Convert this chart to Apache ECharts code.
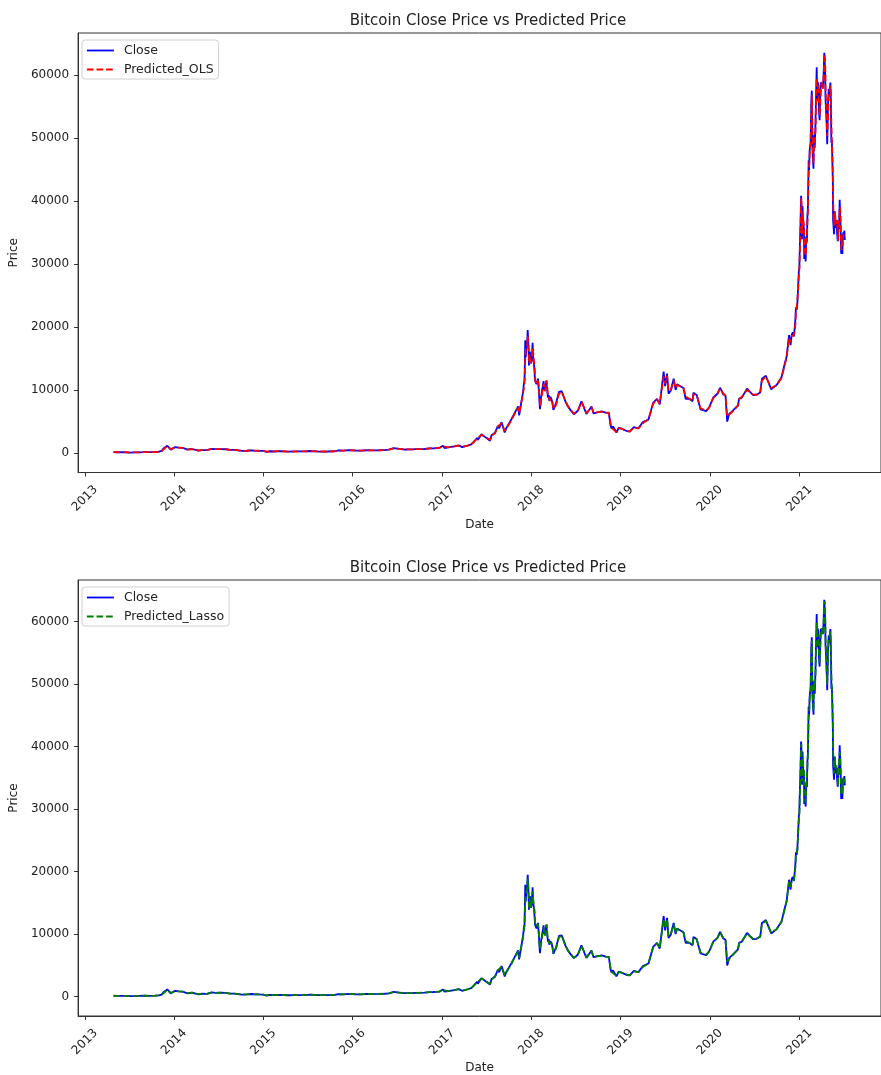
<!DOCTYPE html>
<html>
<head>
<meta charset="utf-8">
<script src="https://cdn.jsdelivr.net/npm/echarts@6/dist/echarts.min.js"></script>
<style>html,body{margin:0;padding:0;background:#fff;}#c{width:881px;height:1075px;}</style>
</head>
<body>
<div id="c"></div>
<script>
const titleText = 'Bitcoin Close Price vs Predicted Price';
const yearTicks = [2013, 2014, 2015, 2016, 2017, 2018, 2019, 2020, 2021];
const priceTicks = [0, 10000, 20000, 30000, 40000, 50000, 60000];

const dates = [
'2013-04-28','2013-05-15','2013-06-01','2013-06-20','2013-07-05','2013-07-20','2013-08-10','2013-09-01','2013-09-25','2013-10-15','2013-11-01','2013-11-12','2013-11-18','2013-11-25','2013-12-04','2013-12-10','2013-12-18','2013-12-26',
'2014-01-05','2014-01-20','2014-02-05','2014-02-25','2014-03-15','2014-04-10','2014-04-25','2014-05-15','2014-06-03','2014-06-20','2014-07-10','2014-08-01','2014-08-18','2014-09-05','2014-09-20','2014-10-05','2014-10-25','2014-11-12','2014-11-25','2014-12-15','2014-12-31',
'2015-01-14','2015-01-25','2015-02-15','2015-03-10','2015-04-14','2015-05-15','2015-06-20','2015-07-12','2015-08-18','2015-08-24','2015-09-20','2015-10-20','2015-11-04','2015-11-11','2015-11-25','2015-12-16',
'2016-01-15','2016-02-05','2016-02-28','2016-03-20','2016-04-15','2016-05-10','2016-05-28','2016-06-17','2016-06-25','2016-07-10','2016-08-02','2016-09-01','2016-09-15','2016-10-20','2016-11-10','2016-11-25','2016-12-20',
'2017-01-04','2017-01-11','2017-01-25','2017-02-20','2017-03-10','2017-03-24','2017-04-15','2017-04-30','2017-05-10','2017-05-25','2017-05-27','2017-06-11','2017-06-25','2017-07-16','2017-07-22','2017-08-05','2017-08-17','2017-08-22','2017-09-01','2017-09-14','2017-09-20','2017-10-12','2017-10-20','2017-11-08','2017-11-12','2017-11-28',
'2017-12-01','2017-12-04','2017-12-07','2017-12-09','2017-12-12','2017-12-15','2017-12-17','2017-12-19','2017-12-21','2017-12-22','2017-12-24','2017-12-26','2017-12-28','2017-12-31',
'2018-01-03','2018-01-06','2018-01-08','2018-01-10','2018-01-12','2018-01-14','2018-01-16','2018-01-17','2018-01-19','2018-01-22','2018-01-25','2018-01-28','2018-01-31','2018-02-02','2018-02-05','2018-02-07','2018-02-09','2018-02-12','2018-02-15','2018-02-18','2018-02-20','2018-02-22','2018-02-25','2018-02-28','2018-03-03','2018-03-05','2018-03-08','2018-03-10','2018-03-13','2018-03-15','2018-03-18','2018-03-20','2018-03-25','2018-03-28',
'2018-04-01','2018-04-12','2018-04-24','2018-05-05','2018-05-20','2018-05-30','2018-06-10','2018-06-24','2018-07-10','2018-07-25','2018-08-05','2018-08-14','2018-09-04','2018-09-12','2018-09-20','2018-10-15','2018-11-01','2018-11-14','2018-11-20','2018-11-25','2018-12-01','2018-12-15','2018-12-24',
'2019-01-05','2019-01-28','2019-02-07','2019-02-24','2019-03-15','2019-04-02','2019-04-25','2019-05-14','2019-05-20','2019-05-30','2019-06-10','2019-06-26','2019-07-02','2019-07-10','2019-07-16','2019-07-25','2019-08-06','2019-08-14','2019-08-20','2019-09-15','2019-09-24','2019-10-10','2019-10-22','2019-10-26','2019-11-08','2019-11-24','2019-12-17','2019-12-30',
'2020-01-15','2020-02-01','2020-02-12','2020-02-25','2020-03-05','2020-03-12','2020-03-20','2020-04-01','2020-04-25','2020-04-30','2020-05-10','2020-06-01','2020-06-25','2020-07-10','2020-07-25','2020-08-01','2020-08-17','2020-09-08','2020-09-30','2020-10-20','2020-10-31','2020-11-10','2020-11-20','2020-11-26',
'2020-12-01','2020-12-05','2020-12-10','2020-12-16','2020-12-18','2020-12-21','2020-12-24','2020-12-27','2020-12-30',
'2021-01-01','2021-01-03','2021-01-06','2021-01-08','2021-01-09','2021-01-11','2021-01-12','2021-01-14','2021-01-16','2021-01-18','2021-01-20','2021-01-21','2021-01-24','2021-01-27','2021-01-29',
'2021-02-01','2021-02-03','2021-02-05','2021-02-08','2021-02-10','2021-02-12','2021-02-14','2021-02-16','2021-02-19','2021-02-21','2021-02-22','2021-02-23','2021-02-25','2021-02-28',
'2021-03-01','2021-03-03','2021-03-05','2021-03-08','2021-03-10','2021-03-13','2021-03-15','2021-03-17','2021-03-20','2021-03-22','2021-03-25','2021-03-27','2021-03-30',
'2021-04-02','2021-04-05','2021-04-08','2021-04-10','2021-04-13','2021-04-15','2021-04-17','2021-04-18','2021-04-21','2021-04-23','2021-04-25','2021-04-28',
'2021-05-01','2021-05-03','2021-05-05','2021-05-08','2021-05-10','2021-05-12','2021-05-14','2021-05-16','2021-05-18','2021-05-19','2021-05-21','2021-05-23','2021-05-25','2021-05-27','2021-05-29',
'2021-06-01','2021-06-04','2021-06-07','2021-06-08','2021-06-10','2021-06-12','2021-06-15','2021-06-17','2021-06-19','2021-06-21','2021-06-22','2021-06-24','2021-06-26','2021-06-28','2021-06-30',
'2021-07-02','2021-07-04','2021-07-06'
];

const close = [
135,111,129,108,68,92,104,138,123,148,206,360,700,800,1150,970,520,750,
925,850,800,535,630,360,460,450,665,595,620,590,480,480,410,320,355,420,380,345,320,
178,270,235,290,219,237,245,310,225,210,230,270,403,311,370,455,
375,370,430,410,429,460,530,760,630,650,547,575,607,630,715,740,790,
1135,785,890,1050,1200,935,1180,1350,1750,2400,2050,2960,2550,1930,2830,3200,4300,3900,4890,3240,3900,5400,5990,7400,5950,9700,
10900,11600,17900,15200,17300,17700,19500,17800,15600,13900,13900,16100,14600,14200,
15200,17500,15200,15000,14000,13800,11500,11200,11600,10900,11200,11800,10200,8800,6950,7700,8700,8900,10200,10400,11400,10000,9700,10400,11500,11600,9400,8800,9200,8300,8200,8900,8450,7950,
6850,7900,9700,9800,8200,7400,6800,6150,6700,8200,7100,6200,7380,6300,6500,6600,6400,6350,4500,3880,4200,3240,4000,
3850,3450,3400,4100,3920,4900,5300,7950,8000,8600,7700,12900,10600,12600,9400,9900,11800,10000,10900,10300,8600,8600,8200,9550,9200,6900,6640,7300,
8800,9400,10350,9300,9100,4970,6200,6600,7550,8650,8750,10200,9200,9250,9600,11800,12250,10100,10800,12000,13800,15300,18700,17100,
18800,19150,18500,21300,23100,22700,23700,26300,28900,
29400,32800,36800,40800,40300,35500,33900,39200,36800,36600,35500,30800,32300,30400,34300,
33500,37600,38900,46400,44900,47900,48700,49200,55900,57500,54200,48800,47000,45100,
49600,50500,48400,52200,56000,61200,55900,58900,58300,54500,52800,55900,58800,
59000,58700,58000,59800,63500,63200,60000,56200,53800,51700,49000,55000,
57800,56600,57300,58800,55800,49200,49700,46400,43000,37000,37300,34700,38400,38400,35700,
36700,36900,33600,33500,36700,35500,40200,38100,35500,31600,32500,34700,31600,34400,35000,
33900,35300,33800
];

const predictedOLS = [
134,114,127,110,72,90,103,135,125,145,200,340,640,790,1090,1000,600,720,
900,860,810,560,625,390,450,448,650,600,618,592,495,478,415,330,352,410,384,348,322,
200,255,238,285,222,236,244,300,232,214,229,266,380,330,365,448,
385,372,425,412,427,457,515,720,650,648,565,573,605,628,710,738,785,
1080,840,885,1040,1180,970,1170,1330,1710,2300,2150,2880,2600,2050,2700,3120,4200,3980,4750,3500,3850,5200,5900,7200,6300,9400,
10200,11200,15000,16300,16700,17200,18600,18500,16600,15000,14200,15300,15200,14300,
14900,16700,16200,15100,14300,13900,12500,11400,11400,11300,11000,11500,10700,9400,7900,7300,8300,8700,9800,10300,11000,10500,9800,10200,11100,11500,10000,9100,9000,8600,8250,8600,8600,8100,
7000,7600,9400,9700,8300,7500,6900,6250,6650,8100,7200,6300,7300,6400,6480,6550,6410,6380,4900,4000,4150,3300,3900,
3860,3500,3410,4000,3910,4700,5350,7800,8050,8500,7800,12200,11000,12300,9900,9850,11500,10300,10800,10320,9000,8580,8250,9300,9250,7100,6700,7250,
8700,9350,10250,9450,9050,5800,5900,6500,7500,8500,8900,10000,9300,9240,9550,11500,12100,10300,10750,11900,13600,15200,18300,17600,
18600,18900,18700,20400,22600,23000,23300,25800,28200,
29100,31800,35600,39600,40500,37800,34700,37800,37600,36700,35900,32900,31900,31300,33100,
33800,36300,38500,43800,45500,47000,48400,49000,54100,56800,55800,51400,47900,45900,
47900,50100,49200,51000,54800,59300,58100,57800,58500,56000,53600,54700,57600,
58900,58800,57800,59300,62200,63300,61400,58300,55000,52600,50300,53200,
56700,57100,57000,58300,57200,52400,49300,47600,44500,40600,37600,36100,37100,38300,36800,
36300,37000,35200,33700,35500,36000,38600,39000,36500,33600,32200,33900,32900,33300,34700,
34400,34700,34300
];

const predictedLasso = [
136,113,128,109,74,91,105,136,124,146,202,345,660,780,1100,990,580,730,
905,855,805,555,628,385,452,449,655,598,619,591,490,479,414,328,353,412,382,347,321,
195,260,237,287,221,237,245,303,230,212,230,268,385,325,367,450,
382,371,427,411,428,458,520,730,645,649,560,574,606,629,712,739,787,
1090,830,887,1045,1185,960,1175,1335,1720,2330,2120,2900,2580,2010,2740,3150,4230,3950,4800,3420,3870,5250,5930,7250,6200,9500,
10400,11300,15600,16000,16900,17400,18900,18200,16300,14600,14100,15600,15000,14250,
15000,16900,15900,15050,14200,13850,12200,11300,11450,11200,11050,11600,10500,9200,7600,7400,8400,8750,9900,10350,11100,10350,9750,10250,11200,11550,9800,9000,9050,8500,8230,8700,8550,8050,
6950,7700,9500,9750,8250,7450,6850,6200,6680,8150,7150,6250,7320,6350,6490,6570,6405,6370,4800,3950,4170,3280,3930,
3855,3480,3405,4030,3915,4750,5330,7850,8030,8550,7750,12400,10900,12400,9700,9870,11600,10200,10850,10310,8900,8590,8230,9350,9230,7050,6680,7270,
8730,9370,10280,9400,9070,5600,6000,6550,7520,8550,8850,10050,9250,9245,9570,11600,12150,10250,10770,11950,13650,15250,18400,17500,
18650,18950,18650,20700,22700,22900,23400,25900,28400,
29200,32100,35900,39900,40400,37100,34400,38200,37300,36650,35800,32300,32000,31000,33500,
33700,36700,38600,44500,45300,47300,48500,49050,54600,57000,55300,50600,47600,45700,
48400,50200,49000,51300,55100,59800,57500,58100,58400,55600,53400,55000,57900,
58950,58750,57850,59400,62600,63250,61000,57700,54600,52300,49900,53700,
57000,56900,57100,58400,56800,51500,49400,47300,44000,39600,37500,35700,37500,38350,36500,
36400,36950,34700,33650,35900,35800,39100,38700,36200,33000,32300,34100,32500,33600,34800,
34250,34900,34150
];

const FONT = 'DejaVu Sans';
const TXT = '#222';
const AX = '#333';

const stamps = dates.map(d => Date.parse(d + 'T00:00:00Z'));
function pairs(vals) { return stamps.map((t, i) => [t, vals[i]]); }
const yearStamps = yearTicks.map(y => Date.UTC(y, 0, 1));

function makeX(gridIndex) {
  return {
    type: 'value', gridIndex, scale: true,
    min: Date.UTC(2012, 11, 4), max: Date.UTC(2021, 11, 1),
    name: 'Date', nameLocation: 'middle', nameGap: 46,
    nameTextStyle: { fontFamily: FONT, fontSize: 12, color: TXT },
    axisLine: { show: true, onZero: false, lineStyle: { color: AX, width: 1 } },
    axisTick: { show: true, inside: false, length: 4, lineStyle: { color: AX }, customValues: yearStamps },
    axisLabel: {
      customValues: yearStamps, rotate: 45, margin: 26, align: 'center', verticalAlign: 'middle',
      fontFamily: FONT, fontSize: 12, color: TXT, hideOverlap: false, showMinLabel: true, showMaxLabel: true,
      formatter: v => String(new Date(v).getUTCFullYear())
    },
    splitLine: { show: false }
  };
}
function makeY(gridIndex) {
  return {
    type: 'value', gridIndex, min: -3100, max: 66650,
    name: 'Price', nameLocation: 'middle', nameGap: 50, nameRotate: 90,
    nameTextStyle: { fontFamily: FONT, fontSize: 12, color: TXT },
    axisLine: { show: true, onZero: false, lineStyle: { color: AX, width: 1 } },
    axisTick: { show: true, inside: false, length: 4, lineStyle: { color: AX }, customValues: priceTicks },
    axisLabel: { customValues: priceTicks, margin: 9, fontFamily: FONT, fontSize: 12, color: TXT, formatter: v => String(v) },
    splitLine: { show: false }
  };
}
function lineSeries(name, vals, gi, color, dashed, z) {
  return {
    type: 'line', name, xAxisIndex: gi, yAxisIndex: gi,
    data: pairs(vals), showSymbol: false, symbol: 'none', z,
    lineStyle: { color, width: 1.8, type: dashed ? [6.7, 2.9] : 'solid' },
    itemStyle: { color }, emphasis: { disabled: true }
  };
}
function makeLegend(top, names) {
  return {
    orient: 'vertical', left: 82, top, data: names,
    itemWidth: 27, itemHeight: 13, itemGap: 6, padding: [4, 5, 3, 4],
    backgroundColor: '#fff', borderColor: '#d0d0d0', borderWidth: 1, borderRadius: 3,
    textStyle: { fontFamily: FONT, fontSize: 12.5, color: TXT, padding: [0, 0, 0, 5] },
    itemStyle: { opacity: 0, borderWidth: 0 },
    lineStyle: { width: 1.8 },
    selectedMode: false
  };
}

const chart = echarts.init(document.getElementById('c'), null, { renderer: 'canvas' });
chart.setOption({
  animation: false,
  backgroundColor: '#fff',
  title: [
    { text: titleText, left: 483, top: 9, textAlign: 'center', textStyle: { fontFamily: FONT, fontSize: 15, fontWeight: 'normal', color: TXT } },
    { text: titleText, left: 483, top: 556, textAlign: 'center', textStyle: { fontFamily: FONT, fontSize: 15, fontWeight: 'normal', color: TXT } }
  ],
  legend: [
    makeLegend(40, ['Close', 'Predicted_OLS']),
    makeLegend(587, ['Close', 'Predicted_Lasso'])
  ],
  grid: [
    { left: 76, right: -9, top: 33, height: 439.5, show: true, borderColor: AX, borderWidth: 1, backgroundColor: 'transparent' },
    { left: 76, right: -9, top: 580, height: 439.5, show: true, borderColor: AX, borderWidth: 1, backgroundColor: 'transparent' }
  ],
  xAxis: [makeX(0), makeX(1)],
  yAxis: [makeY(0), makeY(1)],
  series: [
    lineSeries('Close', close, 0, '#0000ff', false, 2),
    lineSeries('Predicted_OLS', predictedOLS, 0, '#ff0000', true, 3),
    lineSeries('Close', close, 1, '#0000ff', false, 2),
    lineSeries('Predicted_Lasso', predictedLasso, 1, '#008000', true, 3)
  ]
});
</script>
</body>
</html>
